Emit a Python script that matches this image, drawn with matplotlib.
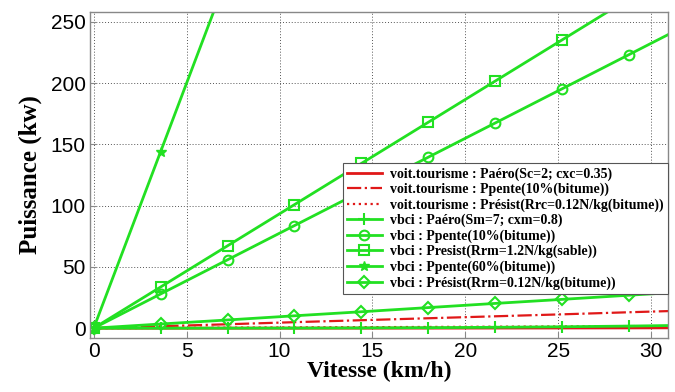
import matplotlib.pyplot as plt

# vitesse (km/h) : 0 .. 9 m/s
vitesse = [0, 3.6, 7.2, 10.8, 14.4, 18.0, 21.6, 25.2, 28.8, 32.4]

# voiture de tourisme (kW)
voit_aero = [0, 0.0, 0.0, 0.01, 0.03, 0.05, 0.09, 0.14, 0.21, 0.31]
voit_pente10 = [0, 1.6, 3.2, 4.9, 6.5, 8.1, 9.7, 11.3, 13.0, 14.6]
voit_resist = [0, 0.2, 0.4, 0.6, 0.8, 1.0, 1.2, 1.4, 1.6, 1.8]

# vbci (kW)
vbci_aero = [0, 0.0, 0.03, 0.09, 0.22, 0.42, 0.73, 1.15, 1.72, 2.45]
vbci_pente10 = [0, 27.9, 55.8, 83.7, 111.6, 139.5, 167.4, 195.3, 223.2, 251.1]
vbci_sable = [0, 33.6, 67.2, 100.8, 134.4, 168.0, 201.6, 235.2, 268.8, 302.4]
vbci_pente60 = [0, 144.0, 288.0, 432.0]
vbci_bitume = [0, 3.4, 6.7, 10.1, 13.4, 16.8, 20.2, 23.5, 26.9, 30.2]

vert = '#22e022'
rouge = '#e01818'

fig = plt.figure(figsize=(6.75, 3.92), dpi=100)
ax = fig.add_axes([0.1333, 0.1378, 0.8563, 0.8316])

lw = 2
ax.plot(vitesse, voit_aero, color=rouge, lw=lw, label='voit.tourisme : Paéro(Sc=2; cxc=0.35)')
ax.plot(vitesse, voit_pente10, color=rouge, lw=1.6, ls='-.', label='voit.tourisme : Ppente(10%(bitume))')
ax.plot(vitesse, voit_resist, color=rouge, lw=1.6, ls=':', label='voit.tourisme : Présist(Rrc=0.12N/kg(bitume))')
ax.plot(vitesse, vbci_aero, color=vert, lw=lw, marker='+', ms=9, mew=1.5,
        label='vbci : Paéro(Sm=7; cxm=0.8)')
ax.plot(vitesse, vbci_pente10, color=vert, lw=lw, marker='o', ms=7, mfc='none', mew=1.5,
        label='vbci : Ppente(10%(bitume))')
ax.plot(vitesse, vbci_sable, color=vert, lw=lw, marker='s', ms=7, mfc='none', mew=1.5,
        label='vbci : Presist(Rrm=1.2N/kg(sable))')
ax.plot(vitesse[:4], vbci_pente60, color=vert, lw=lw, marker='*', ms=7,
        label='vbci : Ppente(60%(bitume))')
ax.plot(vitesse, vbci_bitume, color=vert, lw=lw, marker='D', ms=6.5, mfc='none', mew=1.5,
        label='vbci : Présist(Rrm=0.12N/kg(bitume))')

ax.set_xlim(-0.2, 30.9)
ax.set_ylim(-8, 258)
ax.set_xticks([0, 5, 10, 15, 20, 25, 30])
ax.set_yticks([0, 50, 100, 150, 200, 250])
ax.tick_params(direction='in', length=4, color='#888888', labelsize=15, pad=3)
for lab in ax.get_xticklabels() + ax.get_yticklabels():
    lab.set_family('Liberation Sans')
for s in ax.spines.values():
    s.set_color('#888888')
    s.set_linewidth(1)
ax.grid(True, ls=(0, (1, 2)), color='#555555', lw=0.7)

ax.set_xlabel('Vitesse (km/h)', family='Liberation Serif', weight='bold', fontsize=17, labelpad=0)
ax.set_ylabel('Puissance (kw)', family='Liberation Serif', weight='bold', fontsize=18, labelpad=6)

leg = ax.legend(loc='upper right', bbox_to_anchor=(1.0, 0.537), borderaxespad=0,
                prop={'family': 'Liberation Serif', 'weight': 'bold', 'size': 10},
                fancybox=False, framealpha=1, edgecolor='#555555',
                handlelength=2.5, labelspacing=0.15, borderpad=0.3, handletextpad=0.6)
leg.get_frame().set_linewidth(0.8)

fig.savefig('out.png', dpi=100)
